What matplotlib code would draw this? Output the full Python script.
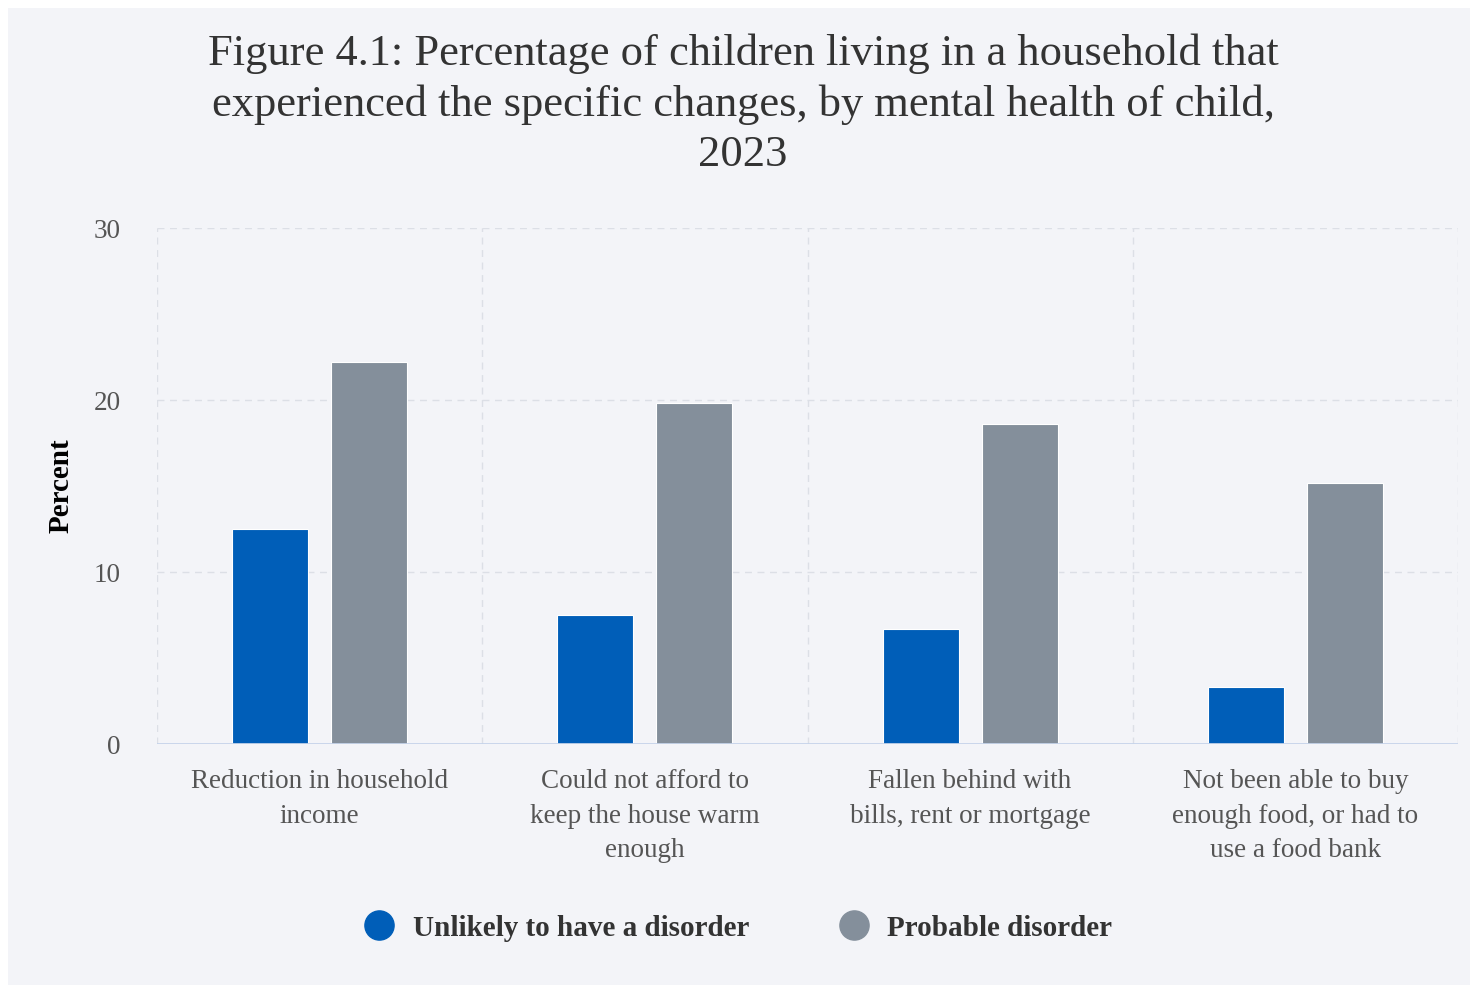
import numpy as np
import matplotlib.pyplot as plt
from matplotlib.lines import Line2D
from matplotlib.patches import Rectangle

# data
categories = ['Reduction in household\nincome',
              'Could not afford to\nkeep the house warm\nenough',
              'Fallen behind with\nbills, rent or mortgage',
              'Not been able to buy\nenough food, or had to\nuse a food bank']
unlikely = [12.5, 7.5, 6.7, 3.3]
probable = [22.2, 19.8, 18.6, 15.2]
series_names = ['Unlikely to have a disorder', 'Probable disorder']
yticks = [0, 10, 20, 30]

blue = '#005eb8'
grey = '#848f9b'
bg = '#f3f4f8'

plt.rcParams['font.family'] = ['Liberation Serif', 'DejaVu Serif']

fig = plt.figure(figsize=(14.8, 9.88), dpi=100, facecolor='white')
# grey panel with thin white border
fig.patches.append(Rectangle((8 / 1480, 3 / 988), 1462 / 1480, 977 / 988,
                             transform=fig.transFigure, facecolor=bg,
                             edgecolor='none', zorder=-10))

ax = fig.add_axes([157 / 1480, 1 - 744 / 988, 1301 / 1480, 516 / 988])
ax.set_facecolor(bg)

x = np.arange(len(categories))
w = 0.234
off = 0.152
ax.bar(x - off, unlikely, w, color=blue, edgecolor='white', linewidth=0.8, zorder=3)
ax.bar(x + off, probable, w, color=grey, edgecolor='white', linewidth=0.8, zorder=3)

ax.set_xlim(-0.5, len(categories) - 0.5)
ax.set_ylim(0, 30)
ax.set_yticks(yticks)
ax.set_yticklabels([str(v) for v in yticks], fontsize=19.5, color='#555555')
ax.tick_params(axis='y', length=0, pad=26)

ax.set_xticks(x)
ax.set_xticklabels(categories, fontsize=19.5, color='#555555', linespacing=1.5)
ax.tick_params(axis='x', length=0, pad=18)

# grid
for v in yticks[1:]:
    ax.axhline(v, color='#dcdfe6', lw=1, ls=(0, (5, 4)), zorder=1)
for b in np.arange(-0.5, len(categories), 1.0):
    ax.axvline(b, color='#dcdfe6', lw=1, ls=(0, (5, 4)), zorder=1)

for s in ax.spines.values():
    s.set_visible(False)
ax.axhline(0, color='#c5d3ea', lw=2, zorder=4)

ax.set_ylabel('Percent', fontsize=21, fontweight='bold', color='black', labelpad=14)

fig.text(0.502, 1 - 104 / 988,
         'Figure 4.1: Percentage of children living in a household that\n'
         'experienced the specific changes, by mental health of child,\n2023',
         ha='center', va='center', fontsize=32, color='#333333', linespacing=1.33)

handles = [Line2D([], [], marker='o', ls='none', markersize=21, color=blue),
           Line2D([], [], marker='o', ls='none', markersize=21, color=grey)]
fig.legend(handles, series_names, loc='center', bbox_to_anchor=(0.494, 1 - 928 / 988),
           ncol=2, frameon=False, prop={'size': 21, 'weight': 'bold'},
           handletextpad=0.15, columnspacing=2.6, labelcolor='#333333')

fig.savefig('out.png', dpi=100, facecolor=fig.get_facecolor())
